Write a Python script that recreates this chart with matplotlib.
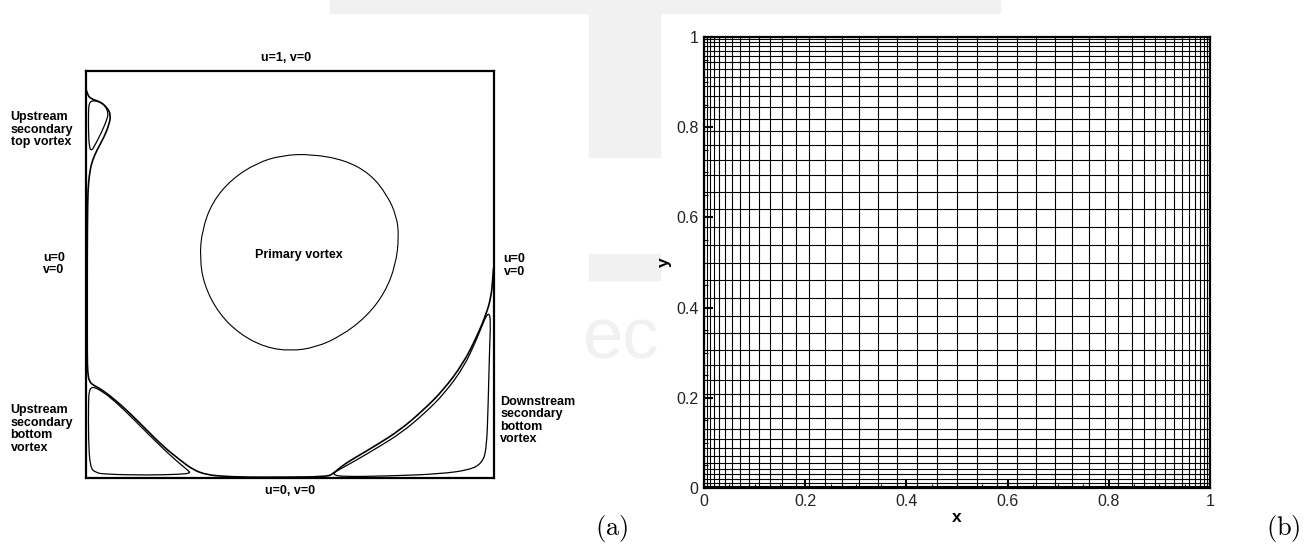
import matplotlib.pyplot as plt
import numpy as np
from matplotlib.path import Path
from matplotlib.patches import PathPatch, Rectangle

plt.rcParams['font.family'] = ['Liberation Sans', 'DejaVu Sans']
plt.rcParams['mathtext.fontset'] = 'cm'

# ---- panel (a): streamline traces (unit cavity) ----
top_vortex = [(0.014, 0.927), (0.030, 0.926), (0.047, 0.916), (0.055, 0.896),
              (0.051, 0.880), (0.039, 0.851), (0.022, 0.818), (0.014, 0.804),
              (0.008, 0.811), (0.006, 0.855), (0.006, 0.904), (0.008, 0.921)]

separatrix = [(0.000, 0.955), (0.003, 0.945), (0.010, 0.932), (0.034, 0.925),
              (0.052, 0.910), (0.061, 0.892), (0.056, 0.866), (0.043, 0.835),
              (0.027, 0.806), (0.016, 0.781), (0.010, 0.757), (0.006, 0.724),
              (0.004, 0.683), (0.003, 0.550), (0.003, 0.400), (0.003, 0.300),
              (0.004, 0.260), (0.008, 0.236), (0.020, 0.227), (0.034, 0.220),
              (0.067, 0.196), (0.108, 0.159), (0.149, 0.118), (0.190, 0.077),
              (0.231, 0.044), (0.263, 0.020), (0.296, 0.008), (0.337, 0.004),
              (0.394, 0.002), (0.476, 0.002), (0.591, 0.003), (0.607, 0.011),
              (0.631, 0.032), (0.664, 0.052), (0.713, 0.081), (0.771, 0.118),
              (0.828, 0.167), (0.877, 0.216), (0.926, 0.282), (0.959, 0.347),
              (0.983, 0.405), (0.994, 0.445), (0.998, 0.486), (1.000, 0.515)]

bottom_left_vortex = [(0.014, 0.223), (0.022, 0.222), (0.034, 0.216), (0.059, 0.199),
                      (0.100, 0.161), (0.141, 0.120), (0.182, 0.079), (0.222, 0.042),
                      (0.250, 0.019), (0.257, 0.012), (0.231, 0.009), (0.149, 0.007),
                      (0.051, 0.009), (0.022, 0.013), (0.010, 0.028), (0.006, 0.093),
                      (0.006, 0.190), (0.008, 0.215)]

bottom_right_vortex = [(0.605, 0.010), (0.615, 0.017), (0.633, 0.027), (0.667, 0.046),
                       (0.716, 0.075), (0.774, 0.111), (0.831, 0.159), (0.880, 0.208),
                       (0.928, 0.274), (0.956, 0.335), (0.971, 0.372), (0.982, 0.398),
                       (0.989, 0.405), (0.993, 0.388), (0.990, 0.306), (0.987, 0.184),
                       (0.983, 0.069), (0.971, 0.036), (0.942, 0.020), (0.869, 0.010),
                       (0.746, 0.005), (0.623, 0.003)]

primary_vortex = [(0.553, 0.796), (0.636, 0.781), (0.698, 0.747), (0.739, 0.695),
                  (0.762, 0.644), (0.768, 0.593), (0.760, 0.524), (0.734, 0.456),
                  (0.688, 0.396), (0.626, 0.349), (0.564, 0.321), (0.502, 0.312),
                  (0.440, 0.321), (0.378, 0.353), (0.326, 0.404), (0.290, 0.473),
                  (0.279, 0.541), (0.285, 0.610), (0.310, 0.678), (0.357, 0.734),
                  (0.419, 0.774), (0.481, 0.793)]

# ---- panel (b): stretched mesh line positions ----
x_lines = [0, 0.005, 0.011, 0.020, 0.030, 0.042, 0.056, 0.072, 0.089, 0.109, 0.131,
           0.155, 0.181, 0.208, 0.240, 0.273, 0.307, 0.343, 0.382, 0.421, 0.461, 0.5,
           0.539, 0.579, 0.618, 0.657, 0.693, 0.727, 0.760, 0.792, 0.819, 0.845,
           0.869, 0.891, 0.911, 0.928, 0.944, 0.958, 0.970, 0.980, 0.989, 0.995, 1.0]
y_lines = [0, 0.005, 0.011, 0.020, 0.030, 0.042, 0.056, 0.072, 0.089, 0.109, 0.131,
           0.155, 0.181, 0.208, 0.240, 0.273, 0.307, 0.343, 0.382, 0.421, 0.461, 0.5,
           0.539, 0.579, 0.618, 0.657, 0.693, 0.727, 0.760, 0.792, 0.819, 0.845,
           0.869, 0.891, 0.911, 0.928, 0.944, 0.958, 0.970, 0.980, 0.989, 0.995, 1.0]
ticks = [0, 0.2, 0.4, 0.6, 0.8, 1]
tick_labels = ['0', '0.2', '0.4', '0.6', '0.8', '1']


def smooth_path(pts, closed=False):
    # quadratic b-spline through the traced points
    p = np.asarray(pts, dtype=float)
    if closed:
        mids = (p + np.roll(p, -1, axis=0)) / 2
        verts = [mids[-1]]
        codes = [Path.MOVETO]
        for i in range(len(p)):
            verts += [p[i], mids[i]]
            codes += [Path.CURVE3, Path.CURVE3]
    else:
        verts = [p[0]]
        codes = [Path.MOVETO]
        for i in range(1, len(p) - 1):
            end = p[i + 1] if i == len(p) - 2 else (p[i] + p[i + 1]) / 2
            verts += [p[i], end]
            codes += [Path.CURVE3, Path.CURVE3]
    return Path(verts, codes)


fig = plt.figure(figsize=(13.13, 5.46), dpi=100)

# faint watermark remnants in the background
W, H = 1313, 546
for (x0, y0, x1, y1) in [(330, 0, 1000, 13), (589, 0, 660, 157), (589, 254, 660, 280)]:
    fig.patches.append(Rectangle((x0 / W, 1 - y1 / H), (x1 - x0) / W, (y1 - y0) / H,
                                 transform=fig.transFigure, color='#f1f1f1', zorder=-5))
fig.text(583 / W, 1 - 340 / H, 'ec', fontsize=52, color='#f1f1f1',
         va='center', ha='left', zorder=-4)

# ---------------- panel (a) ----------------
ax1 = fig.add_axes([86 / W, 1 - 478 / H, 407.5 / W, 407 / H])
ax1.set_xlim(0, 1)
ax1.set_ylim(0, 1)
ax1.set_xticks([])
ax1.set_yticks([])
for s in ax1.spines.values():
    s.set_linewidth(1.6)

ax1.add_patch(PathPatch(smooth_path(separatrix), fill=False, lw=1.2, ec='black'))
ax1.add_patch(PathPatch(smooth_path(top_vortex, True), fill=False, lw=0.9, ec='black'))
ax1.add_patch(PathPatch(smooth_path(bottom_left_vortex, True), fill=False, lw=0.9, ec='black'))
ax1.add_patch(PathPatch(smooth_path(bottom_right_vortex, True), fill=False, lw=0.9, ec='black'))
ax1.add_patch(PathPatch(smooth_path(primary_vortex, True), fill=False, lw=0.8, ec='black'))

kw = dict(fontsize=9, fontweight='bold', linespacing=1.05, clip_on=False)
ax1.text(0.492, 1.032, 'u=1, v=0', ha='center', va='center', **kw)
ax1.text(0.500, -0.032, 'u=0, v=0', ha='center', va='center', **kw)
ax1.text(-0.0785, 0.526, 'u=0\nv=0', ha='center', va='center', **kw)
ax1.text(1.025, 0.522, 'u=0\nv=0', ha='left', va='center', **kw)
ax1.text(0.523, 0.548, 'Primary vortex', ha='center', va='center', **kw)
ax1.text(-0.185, 0.856, 'Upstream\nsecondary\ntop vortex', ha='left', va='center', **kw)
ax1.text(-0.185, 0.120, 'Upstream\nsecondary\nbottom\nvortex', ha='left', va='center', **kw)
ax1.text(1.016, 0.141, 'Downstream\nsecondary\nbottom\nvortex', ha='left', va='center', **kw)

# ---------------- panel (b) ----------------
ax2 = fig.add_axes([704 / W, 1 - 488 / H, 506 / W, 451 / H])
ax2.set_xlim(0, 1)
ax2.set_ylim(0, 1)
for xv in x_lines:
    ax2.axvline(xv, color='black', lw=0.8)
for yv in y_lines:
    ax2.axhline(yv, color='black', lw=0.8)
for s in ax2.spines.values():
    s.set_linewidth(1.6)

ax2.set_xticks(ticks)
ax2.set_xticklabels(tick_labels)
ax2.set_yticks(ticks)
ax2.set_yticklabels(tick_labels)
ax2.set_xticks(np.arange(0, 1.0001, 0.05), minor=True)
ax2.set_yticks(np.arange(0, 1.0001, 0.05), minor=True)
ax2.tick_params(which='major', direction='in', length=6.5, width=1.5,
                labelsize=11.5, labelcolor='#222222', pad=4)
ax2.tick_params(which='minor', direction='in', length=3.2, width=0.8)
ax2.set_xlabel('x', fontsize=12.5, fontweight='bold', labelpad=1)
ax2.set_ylabel('y', fontsize=12.5, fontweight='bold', labelpad=3)

fig.text(612 / W, 1 - 528 / H, r'$\mathrm{(a)}$', fontsize=19, ha='center', va='center')
fig.text(1283 / W, 1 - 528 / H, r'$\mathrm{(b)}$', fontsize=19, ha='center', va='center')

fig.savefig('out.png', dpi=100)
